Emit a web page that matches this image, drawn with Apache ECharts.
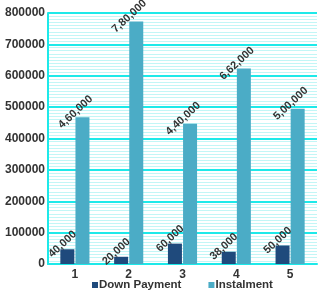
<!DOCTYPE html>
<html><head><meta charset="utf-8">
<script src="https://cdn.jsdelivr.net/npm/echarts@6/dist/echarts.min.js"></script>
<style>html,body{margin:0;padding:0;background:#fff}#c{width:327px;height:295px}</style>
</head><body><div id="c"></div>
<script>
var categories = ['1','2','3','4','5'];
var downPayment = [47000, 23000, 65000, 39000, 59000];
var instalment = [468000, 773000, 447000, 623000, 495000];
var downLabels = ['40,000','20,000','60,000','38,000','50,000'];
var instLabels = ['4,60,000','7,80,000','4,40,000','6,62,000','5,00,000'];
var yTicks = [0,100000,200000,300000,400000,500000,600000,700000,800000];

var chart = echarts.init(document.getElementById('c'), null, {renderer:'canvas'});
function lbl(arr, off){
  return {show:true, position:'top', rotate:43, distance:0, align:'center', verticalAlign:'middle',
    offset:off, color:'#333', fontFamily:'Liberation Sans, Arial, sans-serif', fontWeight:'bold', fontSize:11,
    formatter:function(p){return arr[p.dataIndex];}};
}
chart.setOption({
  animation:false,
  backgroundColor:'#fff',
  grid:{left:48,right:10,top:13,bottom:31,containLabel:false},
  legend:{top:279,left:92,padding:0,itemWidth:6,itemHeight:6,itemGap:27,icon:'rect',
    textStyle:{color:'#333',fontFamily:'Liberation Sans, Arial, sans-serif',fontWeight:'bold',fontSize:11.5,padding:[0,0,0,-4]},
    data:['Down Payment','Instalment']},
  xAxis:{type:'category',data:categories,
    axisLine:{lineStyle:{color:'#1de9e9',width:2}},axisTick:{show:false},
    axisLabel:{color:'#333',fontFamily:'Liberation Sans, Arial, sans-serif',fontWeight:'bold',fontSize:12,margin:5}},
  yAxis:{type:'value',min:yTicks[0],max:yTicks[yTicks.length-1],interval:yTicks[1]-yTicks[0],
    axisLine:{show:true,lineStyle:{color:'#1de9e9',width:2}},axisTick:{show:false},
    axisLabel:{color:'#333',fontFamily:'Liberation Sans, Arial, sans-serif',fontWeight:'bold',fontSize:12,margin:3,
      formatter:function(v){return String(v);}},
    splitLine:{lineStyle:{color:'#1de9e9',width:2}},
    minorTick:{show:false,splitNumber:10},
    minorSplitLine:{show:true,lineStyle:{color:'#c2f6f6',width:1}}},
  series:[
    {name:'Down Payment',type:'bar',data:downPayment,barWidth:14,barGap:'8%',itemStyle:{color:'#1f4a7c'},label:lbl(downLabels,[0,-7])},
    {name:'Instalment',type:'bar',data:instalment,barWidth:14,itemStyle:{color:'#4bacc6'},label:lbl(instLabels,[-1.5,-8.5])}
  ]
});
</script></body></html>
